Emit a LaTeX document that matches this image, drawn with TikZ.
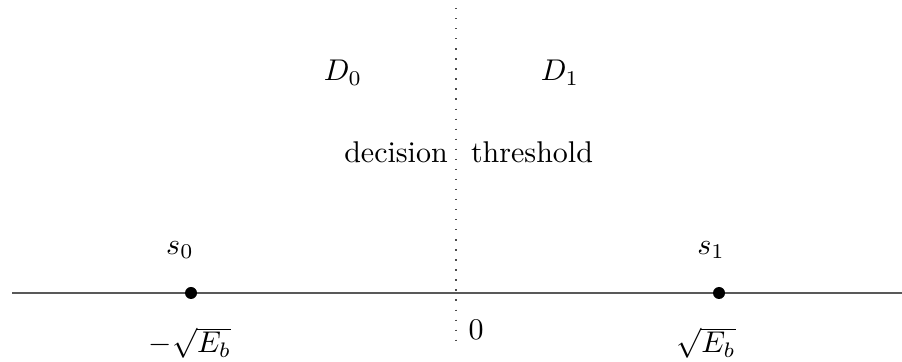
\documentclass[tikz,border=0pt]{standalone}
\begin{document}
\begin{tikzpicture}[x=0.3333pt,y=-0.3333pt,
  axisline/.style={draw=black!65, line width=0.7pt},
  thresh/.style={draw=black!70, line width=0.45pt, dash pattern=on 0.45pt off 2.9pt},
  pt/.style={circle, fill=black, inner sep=0pt, minimum size=4pt},
  lbl/.style={inner sep=0pt}]
\useasboundingbox (0,0) rectangle (902,362);
\coordinate (L) at (12,293);
\coordinate (R) at (902,293);
\coordinate (T) at (456,8);
\coordinate (B) at (456,344);
\draw[axisline] (L) -- (R);
\draw[thresh] (T) -- (B);
\node[pt] (p0) at (191,293) {};
\node[pt] (p1) at (719,293) {};
\node[lbl] (d0) at (343,73) {$D_0$};
\node[lbl] (d1) at (560,73) {$D_1$};
\node[lbl,anchor=base] (dec) at (396,163) {decision};
\node[lbl,anchor=base] (thr) at (532,163) {threshold};
\node[lbl] (s0) at (180,250) {$s_0$};
\node[lbl] (s1) at (711,250) {$s_1$};
\node[lbl] (e0) at (190,343) {$-\sqrt{E_b}$};
\node[lbl] (e1) at (706,343) {$\sqrt{E_b}$};
\node[lbl] (z) at (476,330) {$0$};
\end{tikzpicture}
\end{document}
